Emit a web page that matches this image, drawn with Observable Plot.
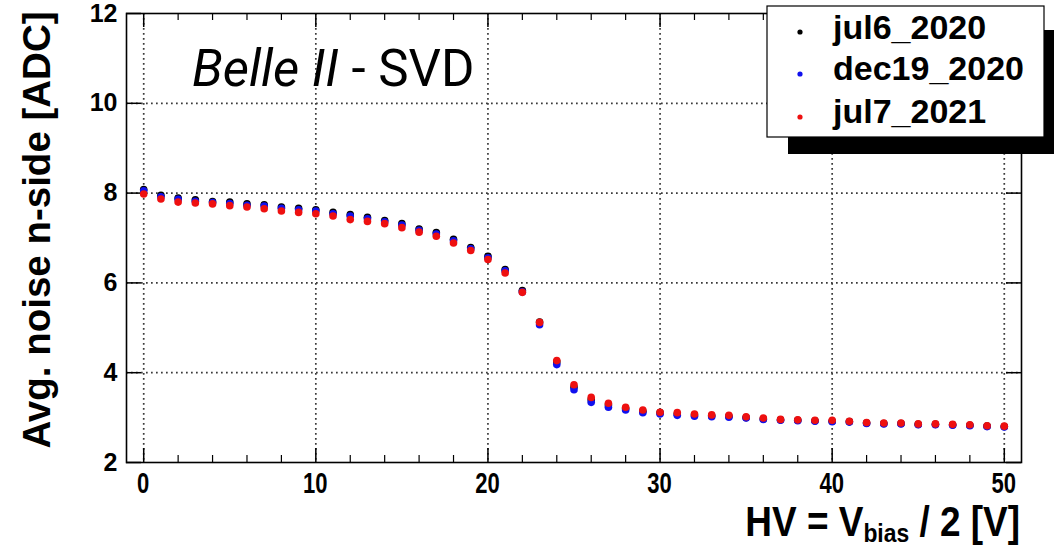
<!DOCTYPE html>
<html>
<head>
<meta charset="utf-8">
<script src="https://cdn.jsdelivr.net/npm/d3@7"></script>
<script src="https://cdn.jsdelivr.net/npm/@observablehq/plot@0.6"></script>
<style>
  html, body { margin: 0; padding: 0; background: #fff; }
  #chart { width: 1054px; height: 546px; }
</style>
</head>
<body>
<div id="chart"></div>
<script>
const hv = [0,1,2,3,4,5,6,7,8,9,10,11,12,13,14,15,16,17,18,19,20,21,22,23,24,25,26,27,28,29,30,31,32,33,34,35,36,37,38,39,40,41,42,43,44,45,46,47,48,49,50];
const jul6_2020 = [8.08,7.95,7.89,7.85,7.81,7.80,7.76,7.74,7.69,7.66,7.63,7.57,7.52,7.46,7.39,7.32,7.20,7.12,6.97,6.79,6.59,6.30,5.83,5.13,4.24,3.68,3.40,3.28,3.20,3.14,3.11,3.08,3.06,3.04,3.03,3.00,2.97,2.95,2.94,2.93,2.92,2.91,2.88,2.87,2.87,2.85,2.85,2.84,2.83,2.81,2.80];
const dec19_2020 = [8.05,7.92,7.86,7.82,7.79,7.77,7.73,7.71,7.66,7.63,7.60,7.54,7.49,7.43,7.36,7.29,7.17,7.09,6.94,6.76,6.56,6.27,5.80,5.07,4.18,3.62,3.34,3.23,3.17,3.11,3.08,3.05,3.03,3.02,3.01,2.99,2.96,2.94,2.93,2.92,2.91,2.90,2.87,2.86,2.86,2.84,2.84,2.83,2.82,2.80,2.79];
const jul7_2021 = [7.98,7.87,7.80,7.78,7.76,7.72,7.69,7.65,7.60,7.57,7.54,7.49,7.41,7.37,7.32,7.23,7.13,7.04,6.89,6.72,6.52,6.22,5.79,5.12,4.27,3.73,3.45,3.32,3.23,3.17,3.12,3.11,3.08,3.06,3.05,3.02,2.99,2.96,2.95,2.94,2.94,2.92,2.89,2.88,2.88,2.86,2.86,2.85,2.84,2.82,2.81];

const seriesNames = ["jul6_2020", "dec19_2020", "jul7_2021"];
const seriesValues = [jul6_2020, dec19_2020, jul7_2021];
const seriesColors = ["#000000", "#1010ee", "#ee1010"];

const xMajorTicks = [0, 10, 20, 30, 40, 50];
const xMinorTicks = [2, 4, 6, 8, 12, 14, 16, 18, 22, 24, 26, 28, 32, 34, 36, 38, 42, 44, 46, 48];
const yMajorTicks = [2, 4, 6, 8, 10, 12];
const yGrid = [4, 6, 8, 10];

const W = 1054, H = 546;
const mL = 126, mR = 33, mT = 13, mB = 84;
const innerH = H - mT - mB;
const innerW = W - mL - mR;
const font = "'Liberation Sans', Arial, sans-serif";

const marks = [];
// grid
marks.push(Plot.ruleX(xMajorTicks, {x: d => d, stroke: "#3a3a3a", strokeWidth: 1.7, strokeDasharray: "1.7,3.3"}));
marks.push(Plot.ruleY(yGrid, {y: d => d, stroke: "#3a3a3a", strokeWidth: 1.7, strokeDasharray: "1.7,3.3"}));
// inside ticks
marks.push(Plot.ruleX(xMajorTicks, {x: d => d, insetTop: innerH - 14, stroke: "#000", strokeWidth: 1.5}));
marks.push(Plot.ruleX(xMajorTicks, {x: d => d, insetBottom: innerH - 14, stroke: "#000", strokeWidth: 1.5}));
marks.push(Plot.ruleX(xMinorTicks, {x: d => d, insetTop: innerH - 7, stroke: "#000", strokeWidth: 1.2}));
marks.push(Plot.ruleX(xMinorTicks, {x: d => d, insetBottom: innerH - 7, stroke: "#000", strokeWidth: 1.2}));
marks.push(Plot.ruleY(yMajorTicks, {y: d => d, insetRight: innerW - 15, stroke: "#000", strokeWidth: 1.5}));
marks.push(Plot.ruleY(yMajorTicks, {y: d => d, insetLeft: innerW - 15, stroke: "#000", strokeWidth: 1.5}));
// points
seriesValues.forEach((vals, k) => {
  marks.push(Plot.dot(hv.map((x, i) => ({x, y: vals[i]})), {x: "x", y: "y", r: 3.8, fill: seriesColors[k], stroke: "none"}));
});
// frame
marks.push(Plot.frame({stroke: "#000", strokeWidth: 1.6}));
// y axis labels
marks.push(Plot.axisY(yMajorTicks, {tickSize: 0, tickPadding: 9, fontSize: 25, fontWeight: "bold", label: null}));

const svg = Plot.plot({
  width: W, height: H,
  marginLeft: mL, marginRight: mR, marginTop: mT, marginBottom: mB,
  x: {domain: [-1, 51], axis: null},
  y: {domain: [2, 12]},
  style: {fontFamily: font, background: "#fff", color: "#000"},
  marks
});

document.getElementById("chart").appendChild(svg);

const s = d3.select(svg);
const xScale = svg.scale("x");

// x tick labels: tall, condensed digits as in the reference
const xt = s.append("g").attr("aria-label", "x-axis tick label");
xMajorTicks.forEach(v => {
  xt.append("text")
    .attr("transform", `translate(${xScale.apply(v)},493) scale(0.76,1)`)
    .attr("text-anchor", "middle")
    .attr("font-family", font).attr("font-weight", "bold").attr("font-size", 29)
    .attr("fill", "#000")
    .text(String(v));
});

// y axis label
s.append("text")
  .attr("transform", "translate(50,230) rotate(-90)")
  .attr("text-anchor", "middle")
  .attr("font-family", font).attr("font-weight", "bold").attr("font-size", 38.5)
  .attr("fill", "#000")
  .text("Avg. noise n-side [ADC]");

// x axis label with subscript
const xl = s.append("text")
  .attr("transform", "translate(1020,536) scale(0.88,1)")
  .attr("text-anchor", "end")
  .attr("font-family", font).attr("font-weight", "bold").attr("font-size", 42)
  .attr("fill", "#000");
xl.append("tspan").text("HV = V");
xl.append("tspan").attr("font-size", 26).attr("dy", 6).text("bias");
xl.append("tspan").attr("dy", -6).text(" / 2 [V]");

// Belle II - SVD
const bt = s.append("text")
  .attr("transform", "translate(192,86)")
  .attr("text-anchor", "start")
  .attr("font-family", "Roboto, 'Open Sans', sans-serif").attr("font-size", 51)
  .attr("fill", "#000");
bt.append("tspan").attr("font-style", "italic").text("Belle II");
bt.append("tspan").text(" - SVD");

// legend
const lg = s.append("g");
lg.append("rect").attr("x", 788).attr("y", 30).attr("width", 300).attr("height", 124).attr("fill", "#000");
lg.append("rect").attr("x", 767).attr("y", 6).attr("width", 277).attr("height", 131)
  .attr("fill", "#fff").attr("stroke", "#000").attr("stroke-width", 1.2);
const legendDotY = [32, 74, 117];
const legendTextY = [39, 80, 123];
seriesNames.forEach((name, k) => {
  lg.append("circle").attr("cx", 800).attr("cy", legendDotY[k]).attr("r", 2.6).attr("fill", seriesColors[k]);
  lg.append("text").attr("x", 833).attr("y", legendTextY[k])
    .attr("text-anchor", "start")
    .attr("font-family", font).attr("font-weight", "bold").attr("font-size", 34)
    .attr("fill", "#000")
    .text(name);
});
</script>
</body>
</html>
